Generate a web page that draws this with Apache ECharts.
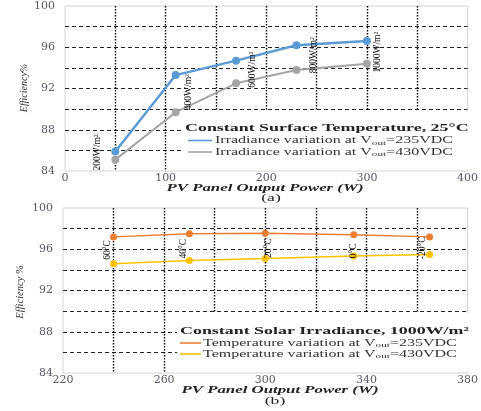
<!DOCTYPE html>
<html>
<head>
<meta charset="utf-8">
<script src="https://cdn.jsdelivr.net/npm/echarts@6/dist/echarts.min.js"></script>
<style>
  html, body { margin: 0; padding: 0; background: #ffffff; }
  #chart { width: 481px; height: 411px; }
</style>
</head>
<body>
<div id="chart"></div>
<script>
// (a) constant surface temperature 25°C: efficiency vs PV output power
const powerA = [50, 110, 170, 230, 300];
const eff235A = [85.9, 93.3, 94.7, 96.2, 96.6];
const eff430A = [85.1, 89.7, 92.5, 93.8, 94.4];
const irradianceLabels = ['200W/m²', '400W/m²', '600W/m²', '800W/m²', '1000W/m²'];

// (b) constant solar irradiance 1000 W/m²
const powerB = [240, 270, 300, 335, 365];
const eff235B = [97.2, 97.5, 97.55, 97.4, 97.2];
const eff430B = [94.6, 94.9, 95.1, 95.35, 95.5];
const tempLabels = ['60°C', '40°C', '20°C', '0°C', '-20°C'];

// screen-space label nudges (px, right/down) from each point
const nudgeA = [[-18, 1], [13, 17], [16, 9], [17, 10], [11, 11]];
const nudgeB = [[-6, 13], [-6, 15], [3, 15], [0, 16], [-7, 11]];

const WIDE = '"DejaVu Serif", serif';
const TIMES = '"Liberation Serif", "Times New Roman", serif';
const TICK = '#555a66';
const STRETCH = 1.6; // horizontal stretch of the typeset text

function pairs(xs, ys) { return xs.map((x, i) => [x, ys[i]]); }

// labels are rotated 90° ccw, so the offset is given in the label's rotated frame
function labelled(xs, ys, texts, nudges) {
  return xs.map((x, i) => ({
    value: [x, ys[i]],
    label: {
      show: true, formatter: texts[i], position: 'inside', rotate: 90,
      offset: [-nudges[i][1], nudges[i][0]], fontFamily: TIMES, fontSize: 9.5, color: '#111',
      align: 'center', verticalAlign: 'middle'
    }
  }));
}

function yAxisCfg(idx) {
  return {
    type: 'value', gridIndex: idx, min: 84, max: 100, interval: 2,
    axisLine: { show: false }, axisTick: { show: false },
    axisLabel: { formatter: v => (v % 4 === 0 ? String(v) : ''), margin: 10,
      fontFamily: WIDE, fontSize: 11, color: TICK },
    splitLine: { show: true, showMinLine: false, showMaxLine: false,
      lineStyle: { color: '#222', width: 1, type: [4, 3] } }
  };
}

function xAxisCfg(idx, min, max, step, labelStep) {
  return {
    type: 'value', gridIndex: idx, min: min, max: max, interval: step,
    axisLine: { show: false }, axisTick: { show: false },
    axisLabel: { formatter: v => ((v - min) % labelStep === 0 ? String(v) : ''), margin: 2,
      fontFamily: WIDE, fontSize: 11, color: TICK, showMinLabel: true, showMaxLabel: true },
    splitLine: { show: true, showMinLine: false, showMaxLine: false,
      lineStyle: { color: '#000', width: 1.4, type: [1.4, 1.6] } }
  };
}

const legendRich = {
  a: { fontFamily: TIMES, fontSize: 10, fill: '#333' },
  s: { fontFamily: TIMES, fontSize: 7, fill: '#333', padding: [5, 0, 0, 0] }
};

function stretchedText(x, y, text, font, align) {
  return {
    type: 'text', x: x, y: y, scaleX: STRETCH, z: 5,
    style: { text: text, x: 0, y: 0, font: font, fill: '#222', align: align, verticalAlign: 'middle' }
  };
}

function legendRow(x0, x1, tx, y, color, main, tail) {
  return [
    { type: 'line', z: 5, shape: { x1: x0, y1: y, x2: x1, y2: y }, style: { stroke: color, lineWidth: 1.6 } },
    { type: 'text', x: tx, y: y, scaleX: STRETCH, z: 5,
      style: { text: '{a|' + main + '}{s|out}{a|' + tail + '}', rich: legendRich, x: 0, y: 0,
        align: 'left', verticalAlign: 'middle' } }
  ];
}

const chart = echarts.init(document.getElementById('chart'), null, { renderer: 'canvas' });
chart.setOption({
  animation: false,
  backgroundColor: '#ffffff',
  grid: [
    { left: 65, top: 6, width: 410, height: 165, show: true, borderColor: '#d4d4d4', borderWidth: 1 },
    { left: 63, top: 208, width: 412, height: 165, show: true, borderColor: '#d4d4d4', borderWidth: 1 }
  ],
  xAxis: [xAxisCfg(0, 0, 400, 50, 100), xAxisCfg(1, 220, 380, 20, 40)],
  yAxis: [yAxisCfg(0), yAxisCfg(1)],
  graphic: [
    { type: 'rect', z: 1, shape: { x: 181, y: 111, width: 293, height: 59 }, style: { fill: '#ffffff' } },
    { type: 'rect', z: 1, shape: { x: 177, y: 313, width: 297, height: 59 }, style: { fill: '#ffffff' } },
    stretchedText(185, 128, 'Constant Surface Temperature, 25°C', 'bold 11.2px ' + TIMES, 'left'),
    ...legendRow(188, 212, 215, 140.5, '#5B9BD5', 'Irradiance variation at V', '=235VDC'),
    ...legendRow(188, 212, 215, 152, '#A5A5A5', 'Irradiance variation at V', '=430VDC'),
    stretchedText(180, 331.5, 'Constant Solar Irradiance, 1000W/m²', 'bold 11.2px ' + TIMES, 'left'),
    ...legendRow(180, 201, 203, 343, '#ED7D31', 'Temperature variation at V', '=235VDC'),
    ...legendRow(180, 201, 203, 354, '#FFC000', 'Temperature variation at V', '=430VDC'),
    stretchedText(265, 188, 'PV Panel Output Power (W)', 'italic bold 10.5px ' + TIMES, 'center'),
    stretchedText(271, 198, '(a)', '11px ' + TIMES, 'center'),
    stretchedText(280, 390, 'PV Panel Output Power (W)', 'italic bold 10.5px ' + TIMES, 'center'),
    stretchedText(275, 401, '(b)', '11px ' + TIMES, 'center'),
    { type: 'text', x: 24, y: 88, rotation: Math.PI / 2, style: { text: 'Efficiency%', x: 0, y: 0,
      font: 'italic 10px ' + TIMES, fill: '#333', align: 'center', verticalAlign: 'middle' } },
    { type: 'text', x: 20, y: 292, rotation: Math.PI / 2, style: { text: 'Efficiency %', x: 0, y: 0,
      font: 'italic 10.5px ' + TIMES, fill: '#333', align: 'center', verticalAlign: 'middle' } }
  ],
  series: [
    { name: 'ia235', type: 'line', xAxisIndex: 0, yAxisIndex: 0, z: 3,
      data: labelled(powerA, eff235A, irradianceLabels, nudgeA),
      symbol: 'circle', symbolSize: 8, color: '#5B9BD5', lineStyle: { width: 2.5 } },
    { name: 'ia430', type: 'line', xAxisIndex: 0, yAxisIndex: 0, z: 2,
      data: pairs(powerA, eff430A),
      symbol: 'circle', symbolSize: 8, color: '#A5A5A5', lineStyle: { width: 2 } },
    { name: 'tb235', type: 'line', xAxisIndex: 1, yAxisIndex: 1, z: 3,
      data: labelled(powerB, eff235B, tempLabels, nudgeB),
      symbol: 'circle', symbolSize: 7, color: '#ED7D31', lineStyle: { width: 1.5 } },
    { name: 'tb430', type: 'line', xAxisIndex: 1, yAxisIndex: 1, z: 2,
      data: pairs(powerB, eff430B),
      symbol: 'circle', symbolSize: 7, color: '#FFC000', lineStyle: { width: 1.5 } }
  ]
});
</script>
</body>
</html>
